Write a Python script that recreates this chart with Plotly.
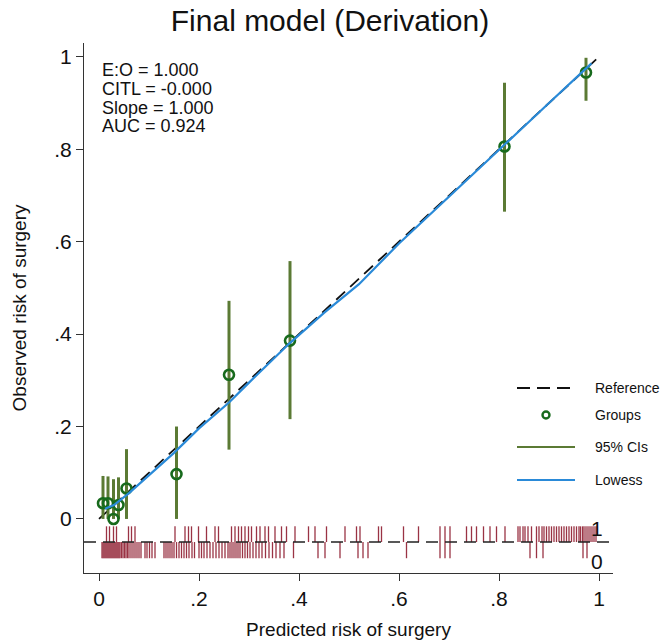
import plotly.graph_objects as go

# ---- data -------------------------------------------------------------
# grouped calibration (predicted vs observed) with 95% CIs
group_pred = [0.008, 0.018, 0.029, 0.039, 0.055, 0.155, 0.26, 0.382, 0.811, 0.974]
group_obs = [0.034, 0.034, 0.0, 0.030, 0.066, 0.097, 0.312, 0.386, 0.806, 0.966]
group_lo = [0.0, 0.0, 0.0, 0.0, 0.0, 0.0, 0.150, 0.216, 0.665, 0.905]
group_hi = [0.093, 0.092, 0.086, 0.090, 0.151, 0.200, 0.472, 0.558, 0.944, 0.998]

# lowess smoother of outcome on predicted risk
lowess_x = [0.012, 0.03, 0.06, 0.10, 0.15, 0.20, 0.26, 0.30, 0.38, 0.45, 0.52, 0.60, 0.70, 0.80, 0.90, 0.985]
lowess_y = [0.022, 0.030, 0.056, 0.095, 0.143, 0.196, 0.252, 0.295, 0.379, 0.446, 0.508, 0.596, 0.698, 0.800, 0.900, 0.986]

# individual predicted risks: patients with surgery (1) and without (0)
rug_event = [0.015, 0.021, 0.029, 0.035, 0.059, 0.065, 0.072, 0.152, 0.172, 0.179,
             0.185, 0.199, 0.215, 0.232, 0.239, 0.265, 0.272, 0.279, 0.285, 0.292,
             0.299, 0.305, 0.315, 0.322, 0.332, 0.339, 0.352, 0.365, 0.375, 0.392,
             0.419, 0.432, 0.455, 0.492, 0.515, 0.522, 0.559, 0.565, 0.609, 0.639,
             0.682, 0.692, 0.702, 0.735, 0.745, 0.755, 0.769, 0.782, 0.795, 0.812,
             0.838, 0.842, 0.848, 0.852, 0.858, 0.865, 0.875, 0.880, 0.886, 0.890,
             0.895, 0.900, 0.905, 0.910, 0.915, 0.920, 0.925, 0.930, 0.935, 0.940,
             0.945, 0.950, 0.955, 0.960, 0.963, 0.967, 0.970, 0.974, 0.978, 0.982,
             0.986, 0.990, 0.994]
rug_nonevent = [0.006, 0.008, 0.010, 0.012, 0.014, 0.016, 0.018, 0.020, 0.022, 0.024,
                0.026, 0.028, 0.030, 0.032, 0.034, 0.036, 0.038, 0.040, 0.042, 0.045,
                0.048, 0.051, 0.054, 0.057, 0.060, 0.064, 0.068, 0.072, 0.076, 0.080,
                0.084, 0.092, 0.096, 0.101, 0.106, 0.112, 0.130, 0.134, 0.138, 0.142,
                0.146, 0.150, 0.155, 0.160, 0.165, 0.170, 0.175, 0.180, 0.186, 0.191,
                0.200, 0.205, 0.210, 0.216, 0.222, 0.228, 0.234, 0.240, 0.246, 0.252,
                0.258, 0.262, 0.266, 0.270, 0.274, 0.278, 0.282, 0.287, 0.292, 0.297,
                0.302, 0.308, 0.314, 0.320, 0.326, 0.333, 0.340, 0.347, 0.354, 0.362,
                0.370, 0.389, 0.438, 0.452, 0.482, 0.518, 0.528, 0.538, 0.615, 0.682,
                0.692, 0.702, 0.862, 0.875, 0.888, 0.968, 0.976]

stats_lines = ["E:O = 1.000", "CITL = -0.000", "Slope = 1.000", "AUC = 0.924"]
legend_labels = ["Reference", "Groups", "95% CIs", "Lowess"]
tick_vals = [0, 0.2, 0.4, 0.6, 0.8, 1]
tick_text = ["0", ".2", ".4", ".6", ".8", "1"]

# ---- styling ----------------------------------------------------------
FONT = "Liberation Sans, Arial, Helvetica, sans-serif"
AX = "#333333"
INK = "#111111"
C_REF, C_GRP, C_CI, C_LOW = "#111111", "#176a1c", "#5b7a34", "#2a8ad8"
C_RUG = "#9a3344"
RUG_BASE, RUG_UP, RUG_DOWN = -0.05, -0.016, -0.085
W, H = 660, 644
M = dict(l=84, r=47, t=43, b=71)


def px(x, y):
    """pixel position -> paper coordinates of the plotting area"""
    pw = W - M["l"] - M["r"]
    ph = H - M["t"] - M["b"]
    return (x - M["l"]) / pw, (H - M["b"] - y) / ph


fig = go.Figure()


def spikes(values, y0, y1):
    xs, ys = [], []
    for v in values:
        xs += [v, v, None]
        ys += [y0, y1, None]
    return xs, ys


ex, ey = spikes(rug_event, RUG_BASE, RUG_UP)
nx, ny = spikes(rug_nonevent, RUG_BASE, RUG_DOWN)
for xs, ys in ((ex, ey), (nx, ny)):
    fig.add_trace(go.Scatter(x=xs, y=ys, mode="lines", showlegend=False,
                             hoverinfo="skip", line=dict(color=C_RUG, width=1.3)))

# rug baseline
fig.add_shape(type="line", xref="paper", x0=0, x1=1, yref="y", y0=RUG_BASE, y1=RUG_BASE,
              line=dict(color="#222222", width=1.6, dash="12px,7px"))

# reference (perfect calibration)
fig.add_trace(go.Scatter(x=[0, 1], y=[0, 1], mode="lines", name=legend_labels[0],
                         line=dict(color=C_REF, width=1.8, dash="12px,7px")))

# confidence intervals
cx, cy = [], []
for p, lo, hi in zip(group_pred, group_lo, group_hi):
    cx += [p, p, None]
    cy += [lo, hi, None]
fig.add_trace(go.Scatter(x=cx, y=cy, mode="lines", name=legend_labels[2],
                         line=dict(color=C_CI, width=3)))

fig.add_trace(go.Scatter(x=group_pred, y=group_obs, mode="markers", name=legend_labels[1],
                         marker=dict(symbol="circle-open", size=10, color=C_GRP,
                                     line=dict(width=2.6, color=C_GRP))))

fig.add_trace(go.Scatter(x=lowess_x, y=lowess_y, mode="lines", name=legend_labels[3],
                         line=dict(color=C_LOW, width=2.2)))

# statistics block
for i, txt in enumerate(stats_lines):
    fig.add_annotation(x=0.002, y=0.972 - i * 0.0408, xref="x", yref="y", text=txt,
                       showarrow=False, xanchor="left", yanchor="middle",
                       font=dict(family=FONT, size=18, color=INK))

# outcome labels for the rug
fig.add_annotation(x=0.996, y=-0.021, xref="x", yref="y", text="1", showarrow=False,
                   font=dict(family=FONT, size=21, color=INK))
fig.add_annotation(x=0.996, y=-0.093, xref="x", yref="y", text="0", showarrow=False,
                   font=dict(family=FONT, size=21, color=INK))

# key: symbol column and label column, one row per layer
rows_y = [388, 415, 447, 480]
sym_x0, sym_x1, label_x = 517, 575, 593
for lab, ry in zip(legend_labels, rows_y):
    a0, b = px(sym_x0, ry)
    a1, _ = px(sym_x1, ry)
    if lab == "Reference":
        fig.add_shape(type="line", xref="paper", yref="paper", x0=a0, x1=a1, y0=b, y1=b,
                      line=dict(color=C_REF, width=2, dash="13px,7px"))
    elif lab == "Groups":
        c0x, c0y = px((sym_x0 + sym_x1) / 2 - 3.5, ry + 3.5)
        c1x, c1y = px((sym_x0 + sym_x1) / 2 + 3.5, ry - 3.5)
        fig.add_shape(type="circle", xref="paper", yref="paper",
                      x0=c0x, x1=c1x, y0=c0y, y1=c1y,
                      line=dict(color=C_GRP, width=2.4))
    elif lab == "95% CIs":
        fig.add_shape(type="line", xref="paper", yref="paper", x0=a0, x1=a1, y0=b, y1=b,
                      line=dict(color=C_CI, width=2))
    else:
        fig.add_shape(type="line", xref="paper", yref="paper", x0=a0, x1=a1, y0=b, y1=b,
                      line=dict(color=C_LOW, width=2))
    tx, ty = px(label_x, ry)
    fig.add_annotation(x=tx, y=ty, xref="paper", yref="paper", text=lab, showarrow=False,
                       xanchor="left", yanchor="middle",
                       font=dict(family=FONT, size=14, color=INK))

axis_common = dict(showline=True, linecolor=AX, linewidth=1.3, ticks="outside",
                   ticklen=7, tickwidth=1.3, tickcolor=AX, showgrid=False,
                   zeroline=False, tickvals=tick_vals, ticktext=tick_text,
                   automargin=False,
                   tickfont=dict(family=FONT, size=21, color=INK))

fig.update_layout(
    width=W, height=H,
    margin=M,
    paper_bgcolor="white", plot_bgcolor="white",
    showlegend=False,
    title=dict(text="Final model (Derivation)", x=0.5, xanchor="center",
               y=0.985, yanchor="top",
               font=dict(family=FONT, size=30, color=INK)),
    xaxis=dict(range=[-0.03, 1.028], title=dict(text="Predicted risk of surgery",
               font=dict(family=FONT, size=19, color=INK), standoff=13),
               **axis_common),
    yaxis=dict(range=[-0.117, 1.03], title=dict(text="Observed risk of surgery",
               font=dict(family=FONT, size=19, color=INK), standoff=22),
               **axis_common),
)

fig.write_html("out.html")
